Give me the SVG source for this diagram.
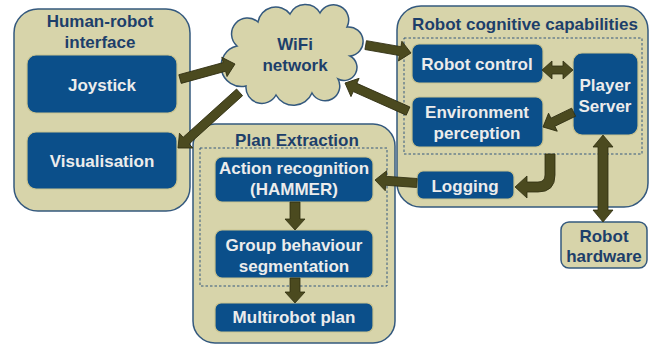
<svg xmlns="http://www.w3.org/2000/svg" width="652" height="345" viewBox="0 0 652 345">
<defs>
<style>
.panel{fill:#D7D4AA;stroke:#34597E;stroke-width:1.5}
.box{fill:#0B4F8A;stroke:#C9C38F;stroke-width:1.2}
.dash{fill:none;stroke:#34597E;stroke-width:1;stroke-dasharray:2.5,2}
.t{font-family:"Liberation Sans",Arial,sans-serif;font-weight:bold;font-size:17px;text-anchor:middle}
.title{fill:#1D3F6A}
.w{fill:#ECECEC}
.arr{fill:#4B4A1F;stroke:#2E2D10;stroke-width:0.8}
</style>
</defs>
<g id="hri">
<rect class="panel" x="14" y="9" width="176" height="202" rx="24"/>
<text class="t title" x="100" y="27">Human-robot</text>
<text class="t title" x="100" y="48">interface</text>
</g>
<g id="joystick">
<rect class="box" x="27" y="55" width="150" height="58" rx="9"/>
<text class="t w" x="102" y="91">Joystick</text>
</g>
<g id="visualisation">
<rect class="box" x="27" y="132" width="150" height="57" rx="9"/>
<text class="t w" x="102" y="167">Visualisation</text>
</g>
<g id="wifi">
<path class="panel" d="M237,46 A14,14 0 0 1 258,22 A18,18 0 0 1 290,14 A17,17 0 0 1 320,13 A15,15 0 0 1 347,27 A12,12 0 0 1 350,56 A12,12 0 0 1 338,79 A14,14 0 0 1 312,93 A20,20 0 0 1 276,95 A16,16 0 0 1 246,86 A20,20 0 0 1 237,46 Z"/>
<text class="t title" x="295" y="50">WiFi</text>
<text class="t title" x="295" y="71">network</text>
</g>
<g id="rcc">
<rect class="panel" x="397" y="6" width="251" height="201" rx="24"/>
<text class="t title" x="525" y="30">Robot cognitive capabilities</text>
<rect class="dash" x="404" y="38" width="238" height="116"/>
</g>
<g id="robotcontrol">
<rect class="box" x="412" y="44" width="131" height="39" rx="7"/>
<text class="t w" x="477" y="70">Robot control</text>
</g>
<g id="envperception">
<rect class="box" x="412" y="97" width="131" height="50" rx="7"/>
<text class="t w" x="477" y="118">Environment</text>
<text class="t w" x="477" y="139">perception</text>
</g>
<g id="player">
<rect class="box" x="573" y="53" width="65" height="82" rx="9"/>
<text class="t w" x="605" y="91">Player</text>
<text class="t w" x="605" y="112">Server</text>
</g>
<g id="logging">
<rect class="box" x="417" y="171" width="97" height="28" rx="6"/>
<text class="t w" x="465" y="192">Logging</text>
</g>
<g id="plan">
<rect class="panel" x="193" y="124" width="202" height="219" rx="22"/>
<text class="t title" x="297" y="146">Plan Extraction</text>
<rect class="dash" x="200" y="148" width="187" height="138"/>
</g>
<g id="action">
<rect class="box" x="215" y="157" width="158" height="45" rx="7"/>
<text class="t w" x="294" y="174">Action recognition</text>
<text class="t w" x="294" y="195">(HAMMER)</text>
</g>
<g id="group">
<rect class="box" x="215" y="230" width="158" height="48" rx="7"/>
<text class="t w" x="294" y="251">Group behaviour</text>
<text class="t w" x="294" y="272">segmentation</text>
</g>
<g id="multirobot">
<rect class="box" x="215" y="303" width="158" height="29" rx="6"/>
<text class="t w" x="294" y="323">Multirobot plan</text>
</g>
<g id="hardware">
<rect class="panel" x="561" y="222" width="86" height="46" rx="8"/>
<text class="t title" x="604" y="242">Robot</text>
<text class="t title" x="604" y="262">hardware</text>
</g>
<g id="connectors">
<g transform="translate(235,64) rotate(-15.3)"><polygon class="arr" points="-57,-4.5 -11,-4.5 -11,-10 0,0 -11,10 -11,4.5 -57,4.5"/></g>
<g transform="translate(178,148) rotate(137.9)"><polygon class="arr" points="-83,-4.5 -11,-4.5 -11,-10 0,0 -11,10 -11,4.5 -83,4.5"/></g>
<g transform="translate(411,53) rotate(9.9)"><polygon class="arr" points="-46,-4.5 -11,-4.5 -11,-10 0,0 -11,10 -11,4.5 -46,4.5"/></g>
<g transform="translate(345,83) rotate(-156)"><polygon class="arr" points="-69,-4.5 -11,-4.5 -11,-10 0,0 -11,10 -11,4.5 -69,4.5"/></g>
<polygon class="arr" points="542,70 552,61 552,66 563,66 563,61 573,70 563,79 563,74 552,74 552,79"/>
<g transform="translate(543,127) rotate(154.2)"><polygon class="arr" points="-34,-4.5 -11,-4.5 -11,-10 0,0 -11,10 -11,4.5 -34,4.5"/></g>
<polygon class="arr" points="603,135 613,147 608,147 608,210 613,210 603,222 593,210 598,210 598,147 593,147"/>
<path class="arr" d="M545,154 L555,154 L555,175 Q555,192 538,192 L527,192 L527,198 L515,187 L527,176 L527,182 L538,182 Q545,182 545,175 Z"/>
<g transform="translate(375,180) rotate(-175.9)"><polygon class="arr" points="-42,-4.5 -11,-4.5 -11,-10 0,0 -11,10 -11,4.5 -42,4.5"/></g>
<polygon class="arr" points="290,202 300,202 300,219 305,219 295,230 285,219 290,219"/>
<polygon class="arr" points="290,278 300,278 300,292 305,292 295,303 285,292 290,292"/>
</g>
</svg>
